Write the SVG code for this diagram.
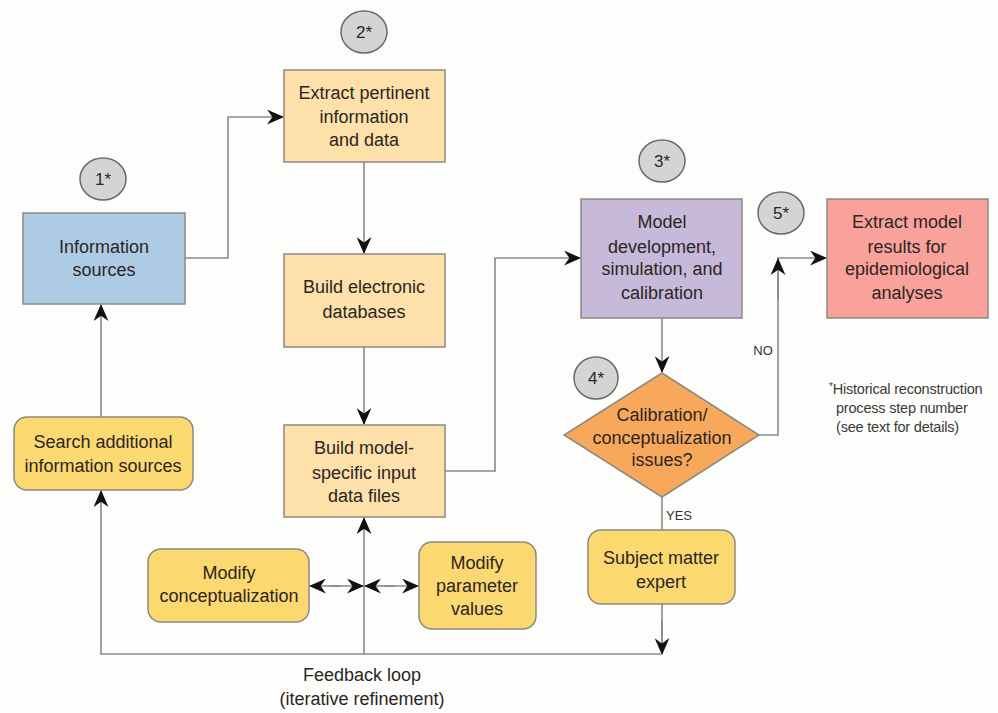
<svg xmlns="http://www.w3.org/2000/svg" width="998" height="713" viewBox="0 0 998 713">
<defs>
<style>
.t{font-family:"Liberation Sans Narrow","Liberation Sans",Arial,sans-serif;font-size:18px;fill:#2b2623;text-anchor:middle}
.c{font-family:"Liberation Sans Narrow","Liberation Sans",Arial,sans-serif;font-size:17px;fill:#2b2623;text-anchor:middle}
.s{font-family:"Liberation Sans Narrow","Liberation Sans",Arial,sans-serif;font-size:13px;fill:#333}
.f{font-family:"Liberation Sans Narrow","Liberation Sans",Arial,sans-serif;font-size:14.5px;fill:#3a3a3a;letter-spacing:-0.2px}
.box{stroke:#8a8a80;stroke-width:1.5}
.circ{fill:#d4d4d4;stroke:#6a6a6a;stroke-width:1.5}
.ln{fill:none;stroke:#8a8a8a;stroke-width:1.6}
</style>
<marker id="ah" viewBox="0 0 16 14" refX="15" refY="7" markerWidth="17" markerHeight="15" markerUnits="userSpaceOnUse" orient="auto">
<path d="M0,0 L16,7 L0,14 L5,7 Z" fill="#111"/>
</marker>
</defs>
<rect width="998" height="713" fill="#fdfdfb"/>

<g id="connectors">
<path class="ln" d="M185,258 H228 V117 H283" marker-end="url(#ah)"/>
<path class="ln" d="M364,162 V253" marker-end="url(#ah)"/>
<path class="ln" d="M364,347 V424" marker-end="url(#ah)"/>
<path class="ln" d="M445,471 H495 V258 H580" marker-end="url(#ah)"/>
<path class="ln" d="M662,318 V372" marker-end="url(#ah)"/>
<path class="ln" d="M759,435 H778 V258 H826" marker-end="url(#ah)"/>
<path class="ln" d="M778,300 V259" marker-end="url(#ah)"/>
<path class="ln" d="M662,497 V530"/>
<path class="ln" d="M662,604 V654"/>
<path class="ln" d="M662,620 V654" marker-end="url(#ah)"/>
<path class="ln" d="M662,654 H101 V491" marker-end="url(#ah)"/>
<path class="ln" d="M101,417 V305" marker-end="url(#ah)"/>
<path class="ln" d="M364,654 V518" marker-end="url(#ah)"/>
<path class="ln" d="M340,586 H310" marker-end="url(#ah)"/>
<path class="ln" d="M330,586 H363" marker-end="url(#ah)"/>
<path class="ln" d="M395,586 H365" marker-end="url(#ah)"/>
<path class="ln" d="M385,586 H418" marker-end="url(#ah)"/>
<text class="s" x="763" y="355" text-anchor="middle">NO</text>
<text class="s" x="679" y="520" text-anchor="middle">YES</text>
</g>

<g id="n1"><ellipse class="circ" cx="103" cy="179" rx="23" ry="21"/><text class="c" x="103" y="185">1*</text></g>
<g id="n2"><ellipse class="circ" cx="364" cy="32" rx="23" ry="21"/><text class="c" x="364" y="38">2*</text></g>
<g id="n3"><ellipse class="circ" cx="662" cy="161" rx="23" ry="21"/><text class="c" x="662" y="167">3*</text></g>
<g id="n4"><ellipse class="circ" cx="596" cy="378" rx="22" ry="21"/><text class="c" x="596" y="384">4*</text></g>
<g id="n5"><ellipse class="circ" cx="781" cy="213" rx="23" ry="21"/><text class="c" x="781" y="219">5*</text></g>

<g id="info"><rect class="box" x="23" y="213" width="162" height="91" fill="#aecbe6"/>
<text class="t" x="104" y="253">Information</text><text class="t" x="104" y="276">sources</text></g>

<g id="extract"><rect class="box" x="284" y="70" width="161" height="92" fill="#fde0aa"/>
<text class="t" x="364" y="99">Extract pertinent</text><text class="t" x="364" y="123">information</text><text class="t" x="364" y="146">and data</text></g>

<g id="builddb"><rect class="box" x="284" y="254" width="161" height="93" fill="#fde0aa"/>
<text class="t" x="364" y="293">Build electronic</text><text class="t" x="364" y="318">databases</text></g>

<g id="buildinput"><rect class="box" x="284" y="425" width="161" height="92" fill="#fde0aa"/>
<text class="t" x="364" y="454">Build model-</text><text class="t" x="364" y="479">specific input</text><text class="t" x="364" y="502">data files</text></g>

<g id="model"><rect class="box" x="581" y="199" width="161" height="119" fill="#c6b9d9"/>
<text class="t" x="662" y="228">Model</text><text class="t" x="662" y="253">development,</text><text class="t" x="662" y="275">simulation, and</text><text class="t" x="662" y="299">calibration</text></g>

<g id="results"><rect class="box" x="827" y="199" width="161" height="119" fill="#f9a29b"/>
<text class="t" x="907" y="228">Extract model</text><text class="t" x="907" y="253">results for</text><text class="t" x="907" y="275">epidemiological</text><text class="t" x="907" y="299">analyses</text></g>

<g id="decision"><polygon class="box" points="662,373 759,435 662,497 564,435" fill="#f8a85b"/>
<text class="t" x="662" y="421">Calibration/</text><text class="t" x="662" y="444">conceptualization</text><text class="t" x="662" y="466">issues?</text></g>

<g id="search"><rect class="box" x="14" y="417" width="179" height="73" rx="13" fill="#fcd870"/>
<text class="t" x="103" y="448">Search additional</text><text class="t" x="103" y="472">information sources</text></g>

<g id="modconcept"><rect class="box" x="148" y="549" width="161" height="73" rx="13" fill="#fcd870"/>
<text class="t" x="229" y="579">Modify</text><text class="t" x="229" y="602">conceptualization</text></g>

<g id="modparam"><rect class="box" x="419" y="542" width="117" height="87" rx="13" fill="#fcd870"/>
<text class="t" x="477" y="569">Modify</text><text class="t" x="477" y="592">parameter</text><text class="t" x="477" y="615">values</text></g>

<g id="expert"><rect class="box" x="588" y="530" width="147" height="74" rx="13" fill="#fcd870"/>
<text class="t" x="661" y="564">Subject matter</text><text class="t" x="661" y="588">expert</text></g>

<g id="feedback"><text class="t" x="362" y="681">Feedback loop</text><text class="t" x="362" y="705">(iterative refinement)</text></g>

<g id="footnote"><text class="f" x="829" y="394"><tspan font-size="10" dy="-4">*</tspan><tspan dy="4">Historical reconstruction</tspan></text>
<text class="f" x="836" y="413">process step number</text><text class="f" x="836" y="432">(see text for details)</text></g>
</svg>
